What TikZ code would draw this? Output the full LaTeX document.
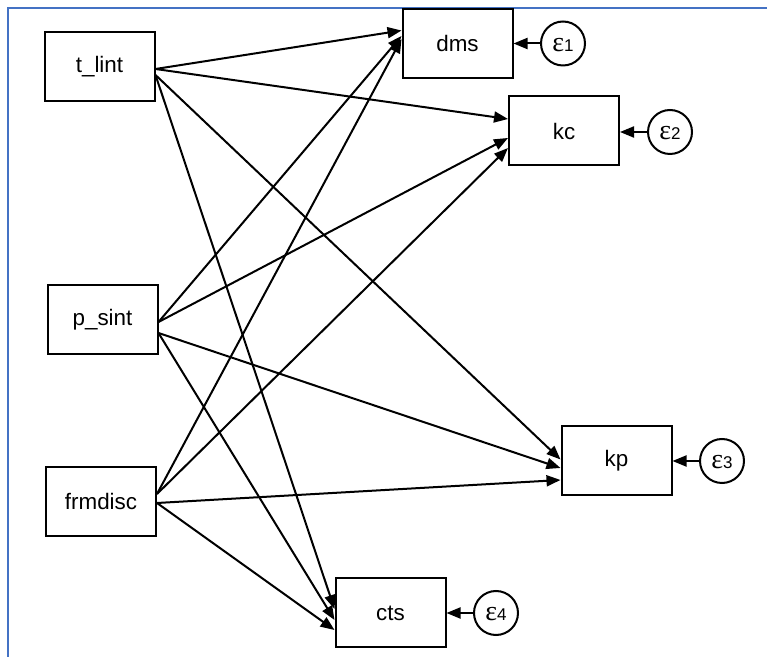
\documentclass[tikz,border=0pt]{standalone}
\usepackage{fontspec}
\setmainfont{Liberation Sans}
\newfontfamily\serifeps{Liberation Serif}
\usetikzlibrary{arrows.meta,calc}
\newcommand\epsl[1]{\raisebox{-4pt}[0pt][0pt]{{\serifeps\fontsize{14}{14}\selectfont ε}{\fontsize{8.5}{8.5}\selectfont #1}}}
\definecolor{framblue}{RGB}{68,114,196}
\begin{document}
\begin{tikzpicture}[x=0.5pt,y=-0.5pt,
  var/.style={draw,line width=1pt,minimum width=55pt,minimum height=34.5pt,inner sep=0pt,font=\fontsize{11.2}{13}\selectfont},
  err/.style={draw,circle,line width=1pt,minimum size=22pt,inner sep=0pt},
  pth/.style={line width=1pt,-{Triangle[length=7pt,width=5.5pt]}},
  ]
\useasboundingbox (0,0) rectangle (767,657);
\draw[framblue, line width=1pt] (8,657) -- (8,8) -- (767,8);

\node[var] (tl) at (99.5,66.5) {t\_lint};
\node[var] (ps) at (102.5,320) {p\_sint};
\node[var] (fd) at (101,501.5) {frmdisc};
\node[var] (dms) at (457.5,43.5) {dms};
\node[var] (kc) at (564,131) {kc};
\node[var] (kp) at (616.5,461) {kp};
\node[var] (cts) at (390.5,613) {cts};

\node[err] (e1) at (563,43.5) {\epsl{1}};
\node[err] (e2) at (670,132) {\epsl{2}};
\node[err] (e3) at (722,461) {\epsl{3}};
\node[err] (e4) at (496,613) {\epsl{4}};

\draw[pth] (e1.west) -- (e1.west -| dms.east);
\draw[pth] (e2.west) -- (e2.west -| kc.east);
\draw[pth] (e3.west) -- (e3.west -| kp.east);
\draw[pth] (e4.west) -- (e4.west -| cts.east);

% t_lint
\draw[pth] ($(tl.east)+(0,2.5)$) -- ($(dms.west)+(0,-13)$);
\draw[pth] ($(tl.east)+(0,2.5)$) -- ($(kc.west)+(0,-12)$);
\draw[pth] ($(tl.east)+(0,8.5)$) -- ($(kp.west)+(0,-1.5)$);
\draw[pth] ($(tl.east)+(0,8.5)$) -- ($(cts.west)+(0,-4)$);
% p_sint
\draw[pth] ($(ps.east)+(0,2)$) -- ($(dms.west)+(0,-7.5)$);
\draw[pth] ($(ps.east)+(0,2)$) -- ($(kc.west)+(0,7)$);
\draw[pth] ($(ps.east)+(0,13)$) -- ($(kp.west)+(0,7)$);
\draw[pth] ($(ps.east)+(0,13)$) -- ($(cts.west)+(0,7)$);
% frmdisc
\draw[pth] ($(fd.east)+(0,-7.5)$) -- ($(dms.west)+(0,-4.5)$);
\draw[pth] ($(fd.east)+(0,-7.5)$) -- ($(kc.west)+(0,17)$);
\draw[pth] ($(fd.east)+(0,1.5)$) -- ($(kp.west)+(0,19)$);
\draw[pth] ($(fd.east)+(0,1.5)$) -- ($(cts.west)+(0,17)$);
\end{tikzpicture}
\end{document}
